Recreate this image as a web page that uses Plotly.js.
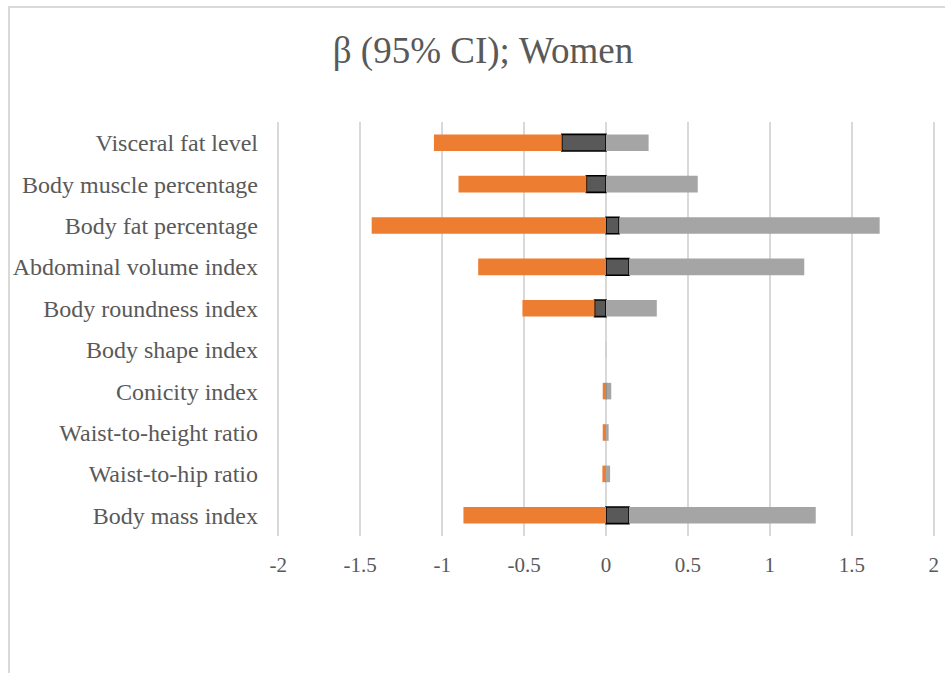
<!DOCTYPE html>
<html>
<head>
<meta charset="utf-8">
<script src="https://cdn.plot.ly/plotly-3.0.1.min.js"></script>
<style>html,body{margin:0;padding:0;background:#fff;}#chart{width:945px;height:673px;}</style>
</head>
<body>
<div id="chart"></div>
<script>
// Categories, top to bottom
const categories = [
  "Visceral fat level",
  "Body muscle percentage",
  "Body fat percentage",
  "Abdominal volume index",
  "Body roundness index",
  "Body shape index",
  "Conicity index",
  "Waist-to-height ratio",
  "Waist-to-hip ratio",
  "Body mass index"
];
// β estimates
const beta  = [-0.27, -0.12, 0.08, 0.14, -0.07, 0.0001, 0.004, 0.001, 0.002, 0.14];
// 95% CI lower bounds
const lower = [-1.05, -0.90, -1.43, -0.78, -0.51, -0.0005, -0.02, -0.02, -0.022, -0.87];
// 95% CI upper bounds
const upper = [0.26, 0.56, 1.67, 1.21, 0.31, 0.0008, 0.032, 0.016, 0.025, 1.28];
// x-axis tick labels
const tickVals = [-2, -1.5, -1, -0.5, 0, 0.5, 1, 1.5, 2];
const tickText = ["-2", "-1.5", "-1", "-0.5", "0", "0.5", "1", "1.5", "2"];

// stacked segments: beta next to zero, CI remainder beyond it
const orangeSeg = lower.map((l, i) => l - Math.min(beta[i], 0));
const graySeg = upper.map((u, i) => u - Math.max(beta[i], 0));
const betaBorder = beta.map(b => Math.abs(b) < 0.01 ? 0 : 1.6);

const traces = [
  {type: "bar", orientation: "h", y: categories, x: beta, name: "β",
   marker: {color: "#595959", line: {color: "#000000", width: betaBorder}}, hoverinfo: "x+y"},
  {type: "bar", orientation: "h", y: categories, x: orangeSeg, name: "Lower",
   marker: {color: "#ED7D31", line: {width: 0}}, hoverinfo: "y"},
  {type: "bar", orientation: "h", y: categories, x: graySeg, name: "Upper",
   marker: {color: "#A5A5A5", line: {width: 0}}, hoverinfo: "y"}
];

const W = 945, H = 673, L = 275, R = 8, T = 122, B = 137;
const pw = W - L - R, ph = H - T - B;
const px = v => (v - L) / pw;
const py = v => (H - B - v) / ph;

const layout = {
  width: W, height: H,
  margin: {l: L, r: R, t: T, b: B, pad: 0},
  paper_bgcolor: "#ffffff", plot_bgcolor: "#ffffff",
  barmode: "relative", bargap: 0.6,
  showlegend: false,
  font: {family: "Liberation Serif, Times New Roman, serif", color: "#595959"},
  title: {text: "β (95% CI); Women", font: {size: 37, color: "#595959", family: "Liberation Serif, serif"},
          xref: "container", x: 483 / W, xanchor: "center", yref: "container", y: 1 - 50 / H, yanchor: "middle"},
  xaxis: {range: [-2.02, 2.02], tickvals: tickVals, ticktext: tickText, showgrid: true,
          gridcolor: "#d9d9d9", gridwidth: 2, zeroline: true, zerolinecolor: "#d9d9d9", zerolinewidth: 2,
          showline: false, ticks: "", ticklabelstandoff: 14,
          tickfont: {size: 21, color: "#595959"}, fixedrange: true},
  yaxis: {type: "category", autorange: "reversed", showgrid: false, zeroline: false, showline: false,
          ticks: "", ticklabelstandoff: 16, tickfont: {size: 24, color: "#595959"}, fixedrange: true},
  shapes: [
    {type: "rect", xref: "paper", yref: "paper", x0: px(9), x1: px(1100), y0: py(900), y1: py(7),
     line: {color: "#d9d9d9", width: 2}, fillcolor: "rgba(0,0,0,0)", layer: "below"}
  ]
};

Plotly.newPlot("chart", traces, layout, {displayModeBar: false, staticPlot: true});
</script>
</body>
</html>
